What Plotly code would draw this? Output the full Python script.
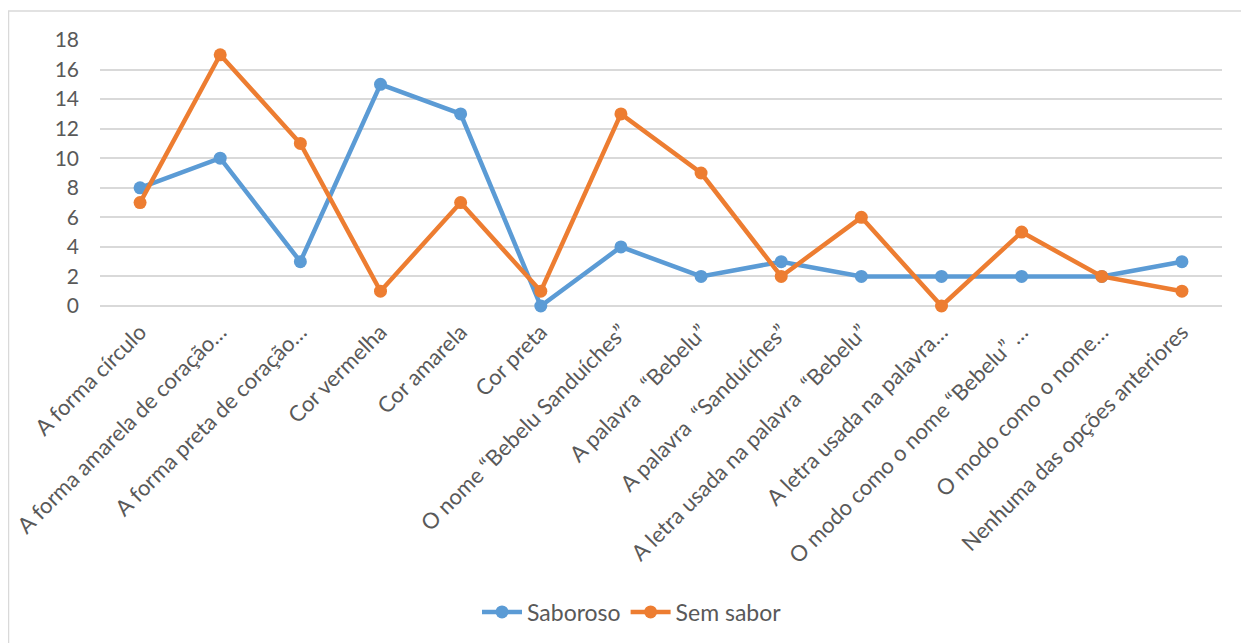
import plotly.graph_objects as go

categories = [
    "A forma círculo",
    "A forma amarela de coração…",
    "A forma preta de coração…",
    "Cor vermelha",
    "Cor amarela",
    "Cor preta",
    "O nome “Bebelu Sanduíches”",
    "A palavra  “Bebelu”",
    "A palavra  “Sanduíches”",
    "A letra usada na palavra  “Bebelu”",
    "A letra usada na palavra…",
    "O modo como o nome “Bebelu” …",
    "O modo como o nome…",
    "Nenhuma das opções anteriores",
]
saboroso = [8, 10, 3, 15, 13, 0, 4, 2, 3, 2, 2, 2, 2, 3]
sem_sabor = [7, 17, 11, 1, 7, 1, 13, 9, 2, 6, 0, 5, 2, 1]
y_ticks = [0, 2, 4, 6, 8, 10, 12, 14, 16, 18]

FONT = "Lato, 'Open Sans', sans-serif"
GREY = "#595959"

fig = go.Figure()
fig.add_trace(go.Scatter(
    x=categories, y=saboroso, name="Saboroso", mode="lines+markers",
    line=dict(color="#5B9BD5", width=4.5),
    marker=dict(color="#5B9BD5", size=13), cliponaxis=False,
))
fig.add_trace(go.Scatter(
    x=categories, y=sem_sabor, name="Sem sabor", mode="lines+markers",
    line=dict(color="#ED7D31", width=4.5),
    marker=dict(color="#ED7D31", size=13), cliponaxis=False,
))

# page body has an 8px offset; figure coordinates are page coords minus 8
OFF = 8
W, H = 1249 - OFF, 643 - OFF
L, T = 100 - OFF, 40 - OFF
R = W - (1222 - OFF)
B = H - (306 - OFF)
pw = W - L - R
ph = H - T - B


def px_x(x):
    return (x - OFF - L) / pw


def px_y(y):
    return (H - B - (y - OFF)) / ph


fig.update_layout(
    width=W, height=H,
    margin=dict(l=L, r=R, t=T, b=B, autoexpand=False),
    paper_bgcolor="white", plot_bgcolor="white",
    font=dict(family=FONT, size=20, color=GREY),
    showlegend=True,
    legend=dict(orientation="h", x=px_x(632), xanchor="center",
                y=px_y(612), yanchor="middle",
                font=dict(family=FONT, size=23, color=GREY),
                itemwidth=40, traceorder="normal"),
    xaxis=dict(type="category", tickangle=-45, showgrid=False,
               showline=False, zeroline=False, ticks="",
               ticklabelstandoff=8, automargin=False,
               tickfont=dict(family=FONT, size=22, color=GREY),
               range=[-0.5, len(categories) - 0.5]),
    yaxis=dict(range=[0, 18], tickvals=y_ticks, showgrid=True,
               gridcolor="#D9D9D9", gridwidth=1.5, zeroline=True,
               zerolinecolor="#D9D9D9", zerolinewidth=1.5,
               showline=False, ticks="", ticklabelstandoff=20,
               automargin=False,
               tickfont=dict(family=FONT, size=21, color=GREY)),
    shapes=[dict(type="rect", xref="paper", yref="paper",
                 x0=px_x(8.5), x1=px_x(1262),
                 y0=px_y(660), y1=px_y(11),
                 line=dict(color="#D9D9D9", width=1.5),
                 fillcolor="rgba(0,0,0,0)", layer="below")],
)

fig.write_html("out.html")
